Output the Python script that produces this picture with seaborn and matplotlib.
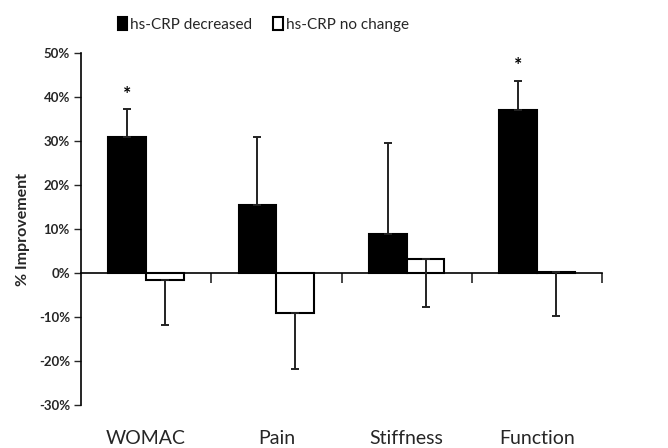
import matplotlib
matplotlib.use("Agg")
import matplotlib.pyplot as plt
import seaborn as sns
import pandas as pd
import numpy as np

categories = ["WOMAC", "Pain", "Stiffness", "Function"]
groups = ["hs-CRP decreased", "hs-CRP no change"]
decreased = [30.8, 15.5, 8.9, 37.0]
decreased_err = [6.4, 15.5, 20.6, 6.7]
nochange = [-1.6, -9.2, 3.2, 0.3]
nochange_err = [10.2, 12.6, 10.9, 10.1]
significant = [True, False, False, True]
yticks = [-30, -20, -10, 0, 10, 20, 30, 40, 50]

df = pd.DataFrame({
    "cat": categories * 2,
    "group": [groups[0]] * 4 + [groups[1]] * 4,
    "val": decreased + nochange,
})

sns.set_style("white")
plt.rcParams["font.family"] = ["Lato", "DejaVu Sans"]

fig = plt.figure(figsize=(6.68, 4.48), dpi=100)
ax = fig.add_axes([81 / 668, 43 / 448, 521 / 668, 352 / 448])

sns.barplot(data=df, x="cat", y="val", hue="group", order=categories,
            hue_order=groups, palette=["black", "white"], width=0.58,
            edgecolor="black", linewidth=1.5, errorbar=None, ax=ax,
            legend=True, zorder=2)

patches = list(ax.patches)[:8]
bars_dec = patches[:4]
bars_nc = patches[4:8]

for b, v, e, s in zip(bars_dec, decreased, decreased_err, significant):
    xc = b.get_x() + b.get_width() / 2
    ax.errorbar(xc, v, yerr=[[0], [e]], fmt="none", ecolor="#222222",
                elinewidth=1.4, capsize=3, capthick=1.4, zorder=3)
    if s:
        ax.text(xc, v + e + 1.5, "*", ha="center", va="bottom",
                fontsize=14, fontweight="bold", color="black")

for b, v, e in zip(bars_nc, nochange, nochange_err):
    xc = b.get_x() + b.get_width() / 2
    ax.errorbar(xc, v, yerr=[[e], [0]], fmt="none", ecolor="#222222",
                elinewidth=1.4, capsize=3, capthick=1.4, zorder=3)

ax.set_xlim(-0.5, 3.5)
ax.set_ylim(-30, 50)
ax.set_yticks(yticks)
ax.set_yticklabels([f"{t}%" for t in yticks], fontsize=9.5, fontweight="bold")
ax.tick_params(axis="y", direction="out", length=5, width=1, left=True, pad=3)

ax.spines["top"].set_visible(False)
ax.spines["right"].set_visible(False)
ax.spines["bottom"].set_position(("data", 0))
ax.spines["left"].set_linewidth(1.2)
ax.spines["bottom"].set_linewidth(1.2)
ax.spines["left"].set_color("black")
ax.spines["bottom"].set_color("black")

ax.set_xticks([0.5, 1.5, 2.5, 3.5])
ax.set_xticklabels([])
ax.tick_params(axis="x", direction="out", length=7, width=1.2, bottom=True)
ax.set_xlabel("")
for i, c in enumerate(categories):
    ax.text(i, -0.095, c, transform=ax.get_xaxis_transform(), ha="center",
            va="center", fontsize=14)

ax.set_ylabel("% Improvement", fontsize=11.5, fontweight="bold", labelpad=6)

handles, labels = ax.get_legend_handles_labels()
ax.legend_.remove()
fig.legend(handles, labels, loc="center", bbox_to_anchor=(0.394, 0.945),
           ncol=2, frameon=False, fontsize=11, handlelength=0.6,
           handleheight=0.9, handletextpad=0.2, columnspacing=1.4)

fig.savefig("out.png", dpi=100)
